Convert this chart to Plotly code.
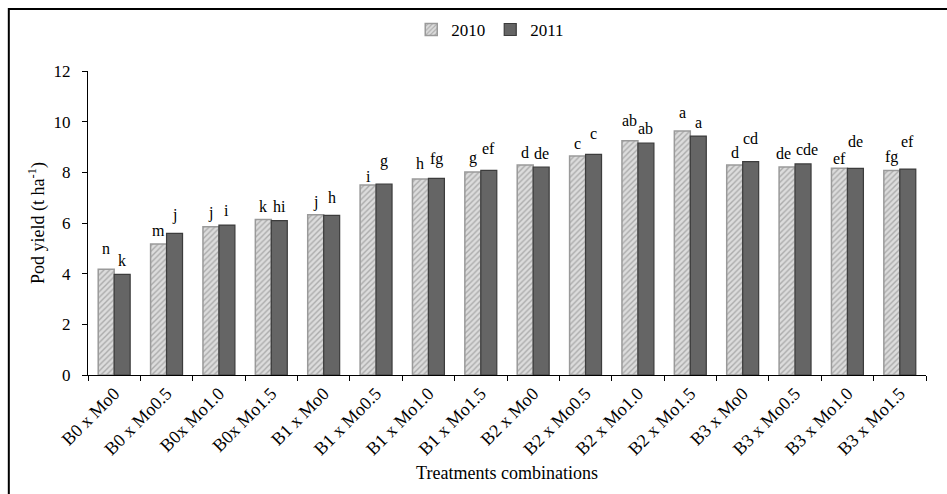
import plotly.graph_objects as go

# Treatment combinations (boron x molybdenum)
treatments = [
    "B0 x Mo0", "B0 x Mo0.5", "B0x Mo1.0", "B0x Mo1.5",
    "B1 x Mo0", "B1 x Mo0.5", "B1 x Mo1.0", "B1 x Mo1.5",
    "B2 x Mo0", "B2 x Mo0.5", "B2 x Mo1.0", "B2 x Mo1.5",
    "B3 x Mo0", "B3 x Mo0.5", "B3 x Mo1.0", "B3 x Mo1.5",
]

# Pod yield (t/ha) per season
yield_2010 = [4.17, 5.17, 5.85, 6.14, 6.33, 7.50, 7.74, 8.01,
              8.29, 8.64, 9.25, 9.63, 8.29, 8.21, 8.16, 8.07]
yield_2011 = [3.97, 5.59, 5.92, 6.09, 6.30, 7.54, 7.76, 8.08,
              8.21, 8.71, 9.15, 9.43, 8.42, 8.33, 8.16, 8.13]

# Mean separation letters (DMRT)
letters_2010 = ["n", "m", "j", "k", "j", "i", "h", "g",
                "d", "c", "ab", "a", "d", "de", "ef", "fg"]
letters_2011 = ["k", "j", "i", "hi", "h", "g", "fg", "ef",
                "de", "c", "ab", "a", "cd", "cde", "de", "ef"]

# Letter placement relative to the top centre of each bar (px)
lift_2010 = [21, 14, 14, 13, 13, 9, 15, 14, 12, 13, 20, 19, 12, 14, 10, 14]
lift_2011 = [14, 18, 15, 14, 18, 23, 19, 22, 14, 21, 15, 14, 23, 14, 27, 28]
nudge_2010 = [0, 0, 0, 0, 0, 0, 0, 0, 0, 0, 0, 0, 0, -4, 0, 0]
nudge_2011 = [0, 0, 0, 0, 0, 0, 0, 0, 0, 0, 0, 0, 0, 4, 0, 0]

SERIF = "Liberation Serif"
BAR_HALF = 8  # half the width of one bar, px

fig = go.Figure()
fig.add_trace(go.Bar(
    name="2010", x=treatments, y=yield_2010,
    marker=dict(
        color="#d4d4d4",
        line=dict(color="#9a9a9a", width=1.5),
        pattern=dict(shape="/", fgcolor="#7a7a7a", bgcolor="#dcdcdc",
                     size=4, solidity=0.35),
    ),
))
fig.add_trace(go.Bar(
    name="2011", x=treatments, y=yield_2011,
    marker=dict(color="#656565", line=dict(color="#3c3c3c", width=1.2)),
))

annotations = []
for side, vals, labs, lifts, nudges in (
        (-1, yield_2010, letters_2010, lift_2010, nudge_2010),
        (1, yield_2011, letters_2011, lift_2011, nudge_2011)):
    for cat, v, t, s, n in zip(treatments, vals, labs, lifts, nudges):
        annotations.append(dict(
            x=cat, y=v, text=t, showarrow=False,
            xshift=side * BAR_HALF + n, yshift=s, yanchor="middle",
            font=dict(family=SERIF, size=16, color="black")))

fig.update_layout(
    width=947, height=494,
    margin=dict(l=88, r=21, t=71, b=119),
    paper_bgcolor="white", plot_bgcolor="white",
    barmode="group", bargap=0.39, bargroupgap=0.0,
    font=dict(family=SERIF, color="black"),
    legend=dict(orientation="h", x=0.48, xanchor="center", y=1.135,
                yanchor="middle", font=dict(family=SERIF, size=17),
                bgcolor="rgba(0,0,0,0)", itemwidth=30,
                traceorder="normal"),
    annotations=annotations,
    shapes=[dict(type="rect", xref="paper", yref="paper",
                 x0=-0.0945, x1=1.2, y0=-1.0, y1=1.204,
                 line=dict(color="black", width=2))],
)
fig.update_xaxes(
    showline=True, linecolor="black", linewidth=1,
    ticks="outside", ticklen=5, tickcolor="black", tickson="boundaries",
    tickangle=-45, tickfont=dict(family=SERIF, size=18),
    title=dict(text="Treatments combinations",
               font=dict(family=SERIF, size=18), standoff=8),
    showgrid=False, automargin=False,
)
fig.update_yaxes(
    range=[0, 12], dtick=2, showline=True, linecolor="black", linewidth=1,
    ticks="outside", ticklen=5, tickcolor="black", ticklabelstandoff=8,
    tickfont=dict(family=SERIF, size=17),
    title=dict(text="Pod yield (t ha<sup>-1</sup>)",
               font=dict(family=SERIF, size=18), standoff=4),
    showgrid=False, zeroline=False,
)

fig.write_html("out.html")
